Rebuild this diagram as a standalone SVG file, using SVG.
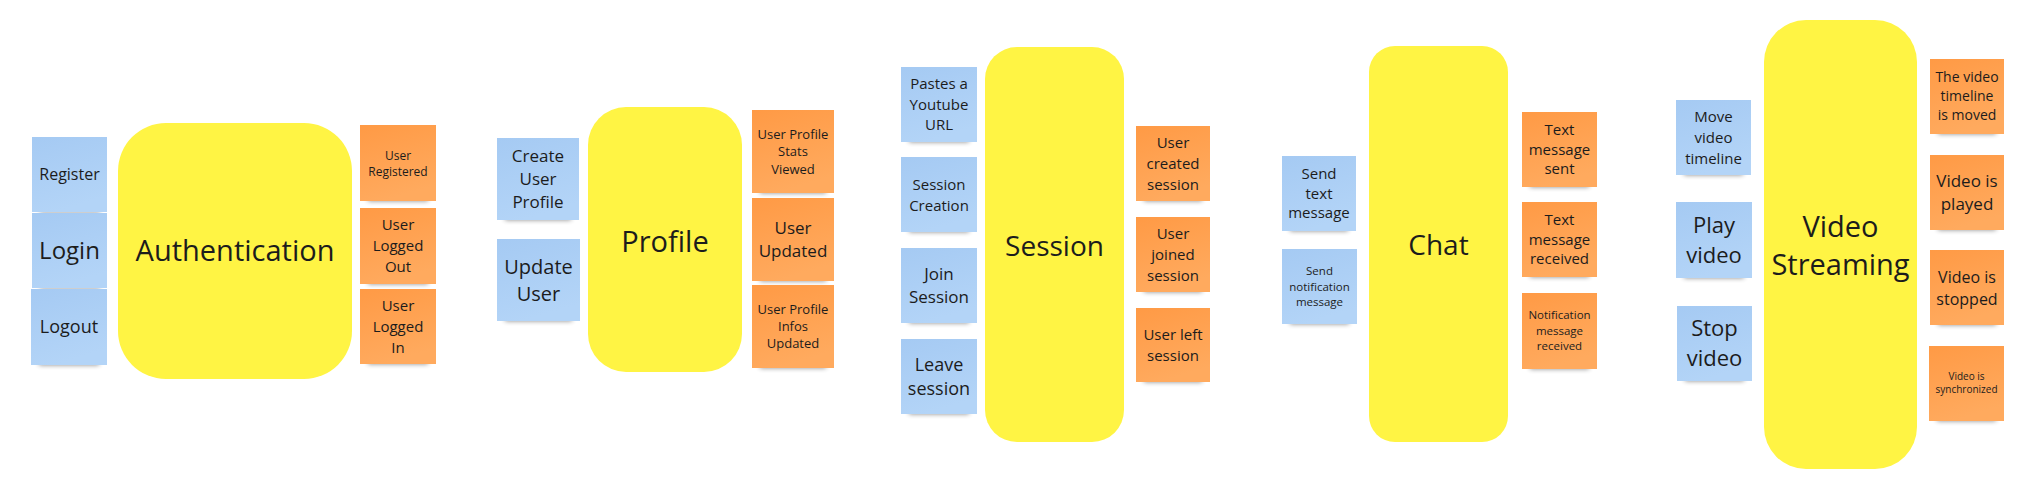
<svg xmlns="http://www.w3.org/2000/svg" width="2041" height="489" viewBox="0 0 2041 489">
<defs>
<linearGradient id="gBlue" x1="0" y1="0" x2="0.3" y2="1"><stop offset="0" stop-color="#a5caf3"/><stop offset="1" stop-color="#b3d4f7"/></linearGradient>
<linearGradient id="gOrange" x1="0" y1="0" x2="0.3" y2="1"><stop offset="0" stop-color="#ff9a45"/><stop offset="1" stop-color="#ffaa5e"/></linearGradient>
<filter id="blur" x="-20%" y="-100%" width="140%" height="300%"><feGaussianBlur stdDeviation="2.5"/></filter>
</defs>
<style>
text{font-family:"Open Sans","Noto Sans","Liberation Sans",sans-serif;fill:#1c1c1c;text-anchor:middle}
.blue{fill:url(#gBlue)}
.orange{fill:url(#gOrange)}
.yellow{fill:#fff444}
.sh{fill:#000;opacity:0.45;filter:url(#blur)}
</style>
<rect width="2041" height="489" fill="#ffffff"/>

<!-- Authentication -->
<g id="register"><rect class="sh" x="40" y="204" width="60" height="8"/><rect class="blue" x="32" y="137" width="75" height="75"/><text x="69.5" y="180" font-size="16">Register</text></g>
<g id="login"><rect class="sh" x="40" y="280" width="60" height="8"/><rect class="blue" x="32" y="213" width="75" height="75"/><text x="69.5" y="259" font-size="24">Login</text></g>
<g id="logout"><rect class="sh" x="39" y="357" width="60" height="8"/><rect class="blue" x="31" y="289" width="76" height="76"/><text x="69" y="333" font-size="18">Logout</text></g>
<g id="authentication"><rect class="yellow" x="118" y="123" width="234" height="256" rx="48"/><text x="235" y="261" font-size="29">Authentication</text></g>
<g id="user-registered"><rect class="sh" x="368" y="193" width="60" height="8"/><rect class="orange" x="360" y="125" width="76" height="76"/><text x="398" font-size="12"><tspan x="398" y="159.5">User</tspan><tspan x="398" y="176">Registered</tspan></text></g>
<g id="user-logged-out"><rect class="sh" x="368" y="276" width="60" height="8"/><rect class="orange" x="360" y="208" width="76" height="76"/><text font-size="15"><tspan x="398" y="230">User</tspan><tspan x="398" y="251">Logged</tspan><tspan x="398" y="272">Out</tspan></text></g>
<g id="user-logged-in"><rect class="sh" x="368" y="356" width="60" height="8"/><rect class="orange" x="360" y="289" width="76" height="75"/><text font-size="15"><tspan x="398" y="311">User</tspan><tspan x="398" y="332">Logged</tspan><tspan x="398" y="353">In</tspan></text></g>

<!-- Profile -->
<g id="create-user-profile"><rect class="sh" x="505" y="212" width="66" height="8"/><rect class="blue" x="497" y="138" width="82" height="82"/><text font-size="17"><tspan x="538" y="162">Create</tspan><tspan x="538" y="185">User</tspan><tspan x="538" y="208">Profile</tspan></text></g>
<g id="update-user"><rect class="sh" x="505" y="313" width="67" height="8"/><rect class="blue" x="497" y="239" width="83" height="82"/><text font-size="20"><tspan x="538.5" y="273.5">Update</tspan><tspan x="538.5" y="300.5">User</tspan></text></g>
<g id="profile"><rect class="yellow" x="588" y="107" width="154" height="265" rx="38"/><text x="665" y="252" font-size="29">Profile</text></g>
<g id="user-profile-stats-viewed"><rect class="sh" x="760" y="185" width="66" height="8"/><rect class="orange" x="752" y="110" width="82" height="83"/><text font-size="13"><tspan x="793" y="138.5">User Profile</tspan><tspan x="793" y="156">Stats</tspan><tspan x="793" y="173.5">Viewed</tspan></text></g>
<g id="user-updated"><rect class="sh" x="760" y="273" width="66" height="8"/><rect class="orange" x="752" y="198" width="82" height="83"/><text font-size="17"><tspan x="793" y="234">User</tspan><tspan x="793" y="257">Updated</tspan></text></g>
<g id="user-profile-infos-updated"><rect class="sh" x="760" y="360" width="66" height="8"/><rect class="orange" x="752" y="285" width="82" height="83"/><text font-size="13"><tspan x="793" y="314">User Profile</tspan><tspan x="793" y="331">Infos</tspan><tspan x="793" y="348">Updated</tspan></text></g>

<!-- Session -->
<g id="pastes-youtube-url"><rect class="sh" x="909" y="134" width="60" height="8"/><rect class="blue" x="901" y="67" width="76" height="75"/><text font-size="15"><tspan x="939" y="89">Pastes a</tspan><tspan x="939" y="109.5">Youtube</tspan><tspan x="939" y="130">URL</tspan></text></g>
<g id="session-creation"><rect class="sh" x="909" y="224" width="60" height="8"/><rect class="blue" x="901" y="157" width="76" height="75"/><text font-size="15"><tspan x="939" y="189.5">Session</tspan><tspan x="939" y="210.5">Creation</tspan></text></g>
<g id="join-session"><rect class="sh" x="909" y="315" width="60" height="8"/><rect class="blue" x="901" y="248" width="76" height="75"/><text font-size="17"><tspan x="939" y="280">Join</tspan><tspan x="939" y="303">Session</tspan></text></g>
<g id="leave-session"><rect class="sh" x="909" y="406" width="60" height="8"/><rect class="blue" x="901" y="339" width="76" height="75"/><text font-size="18"><tspan x="939" y="370.5">Leave</tspan><tspan x="939" y="394.5">session</tspan></text></g>
<g id="session"><rect class="yellow" x="985" y="47" width="139" height="395" rx="32"/><text x="1054.5" y="256" font-size="28">Session</text></g>
<g id="user-created-session"><rect class="sh" x="1144" y="193" width="58" height="8"/><rect class="orange" x="1136" y="126" width="74" height="75"/><text font-size="15"><tspan x="1173" y="147.5">User</tspan><tspan x="1173" y="168.5">created</tspan><tspan x="1173" y="189.5">session</tspan></text></g>
<g id="user-joined-session"><rect class="sh" x="1144" y="284" width="58" height="8"/><rect class="orange" x="1136" y="217" width="74" height="75"/><text font-size="15"><tspan x="1173" y="238.5">User</tspan><tspan x="1173" y="259.5">joined</tspan><tspan x="1173" y="280.5">session</tspan></text></g>
<g id="user-left-session"><rect class="sh" x="1144" y="374" width="58" height="8"/><rect class="orange" x="1136" y="308" width="74" height="74"/><text font-size="15"><tspan x="1173" y="339.5">User left</tspan><tspan x="1173" y="360.5">session</tspan></text></g>

<!-- Chat -->
<g id="send-text-message"><rect class="sh" x="1290" y="223" width="58" height="8"/><rect class="blue" x="1282" y="156" width="74" height="75"/><text font-size="15"><tspan x="1319" y="179">Send</tspan><tspan x="1319" y="198.5">text</tspan><tspan x="1319" y="218">message</tspan></text></g>
<g id="send-notification-message"><rect class="sh" x="1290" y="316" width="59" height="8"/><rect class="blue" x="1282" y="249" width="75" height="75"/><text font-size="11.5"><tspan x="1319.5" y="275">Send</tspan><tspan x="1319.5" y="290.5">notification</tspan><tspan x="1319.5" y="306">message</tspan></text></g>
<g id="chat"><rect class="yellow" x="1369" y="46" width="139" height="396" rx="26"/><text x="1438.5" y="255" font-size="28">Chat</text></g>
<g id="text-message-sent"><rect class="sh" x="1530" y="179" width="59" height="8"/><rect class="orange" x="1522" y="112" width="75" height="75"/><text font-size="15"><tspan x="1559.5" y="135">Text</tspan><tspan x="1559.5" y="154.5">message</tspan><tspan x="1559.5" y="174">sent</tspan></text></g>
<g id="text-message-received"><rect class="sh" x="1530" y="269" width="59" height="8"/><rect class="orange" x="1522" y="202" width="75" height="75"/><text font-size="15"><tspan x="1559.5" y="225">Text</tspan><tspan x="1559.5" y="244.5">message</tspan><tspan x="1559.5" y="264">received</tspan></text></g>
<g id="notification-message-received"><rect class="sh" x="1530" y="361" width="59" height="8"/><rect class="orange" x="1522" y="293" width="75" height="76"/><text font-size="11.5"><tspan x="1559.5" y="319">Notification</tspan><tspan x="1559.5" y="334.5">message</tspan><tspan x="1559.5" y="350">received</tspan></text></g>

<!-- Video Streaming -->
<g id="move-video-timeline"><rect class="sh" x="1684" y="167" width="59" height="8"/><rect class="blue" x="1676" y="100" width="75" height="75"/><text font-size="15"><tspan x="1713.5" y="121.5">Move</tspan><tspan x="1713.5" y="142.5">video</tspan><tspan x="1713.5" y="163.5">timeline</tspan></text></g>
<g id="play-video"><rect class="sh" x="1684" y="270" width="60" height="8"/><rect class="blue" x="1676" y="202" width="76" height="76"/><text font-size="22"><tspan x="1714" y="232.5">Play</tspan><tspan x="1714" y="262.5">video</tspan></text></g>
<g id="stop-video"><rect class="sh" x="1685" y="373" width="59" height="8"/><rect class="blue" x="1677" y="306" width="75" height="75"/><text font-size="22"><tspan x="1714.5" y="336">Stop</tspan><tspan x="1714.5" y="366">video</tspan></text></g>
<g id="video-streaming"><rect class="yellow" x="1764" y="20" width="153" height="449" rx="42"/><text font-size="29"><tspan x="1840.5" y="237">Video</tspan><tspan x="1840.5" y="275">Streaming</tspan></text></g>
<g id="video-timeline-moved"><rect class="sh" x="1938" y="126" width="58" height="8"/><rect class="orange" x="1930" y="59" width="74" height="75"/><text font-size="14"><tspan x="1967" y="82">The video</tspan><tspan x="1967" y="101">timeline</tspan><tspan x="1967" y="120">is moved</tspan></text></g>
<g id="video-played"><rect class="sh" x="1938" y="222" width="58" height="8"/><rect class="orange" x="1930" y="155" width="74" height="75"/><text font-size="17"><tspan x="1967" y="187">Video is</tspan><tspan x="1967" y="210">played</tspan></text></g>
<g id="video-stopped"><rect class="sh" x="1938" y="317" width="58" height="8"/><rect class="orange" x="1930" y="250" width="74" height="75"/><text font-size="16"><tspan x="1967" y="282.5">Video is</tspan><tspan x="1967" y="304.5">stopped</tspan></text></g>
<g id="video-synchronized"><rect class="sh" x="1937" y="413" width="59" height="8"/><rect class="orange" x="1929" y="346" width="75" height="75"/><text font-size="10"><tspan x="1966.5" y="380">Video is</tspan><tspan x="1966.5" y="393">synchronized</tspan></text></g>

<g id="connectors"></g>
</svg>
